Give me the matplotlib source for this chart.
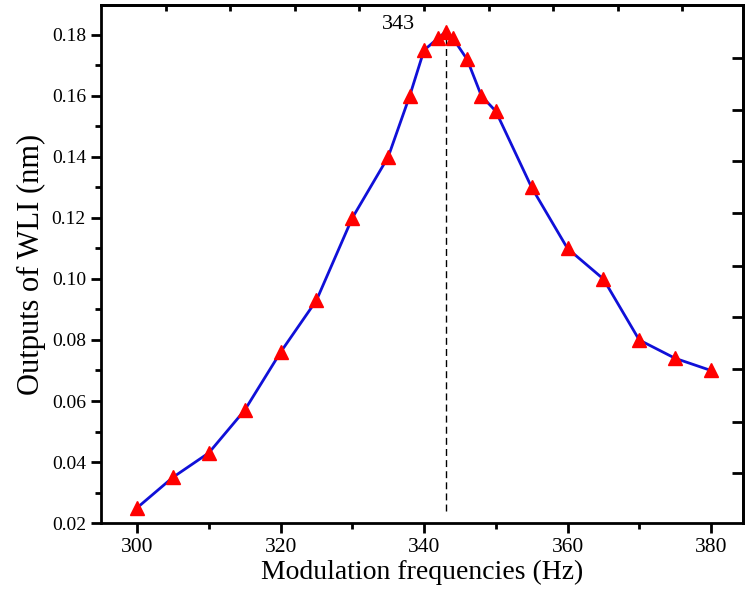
import matplotlib
matplotlib.use('Agg')

import matplotlib.pyplot as plt

# data
freqs = [300, 305, 310, 315, 320, 325, 330, 335, 338, 340, 342, 343,
         344, 346, 348, 350, 355, 360, 365, 370, 375, 380]
outputs = [0.025, 0.035, 0.043, 0.057, 0.076, 0.093, 0.120, 0.140, 0.160,
           0.175, 0.179, 0.181, 0.179, 0.172, 0.160, 0.155, 0.130, 0.110,
           0.100, 0.080, 0.074, 0.070]
peak_freq = 343
peak_label = '343'

x_ticks = [300, 320, 340, 360, 380]
y_ticks = [0.02, 0.04, 0.06, 0.08, 0.10, 0.12, 0.14, 0.16, 0.18]
top_ticks = [304, 313, 322, 331, 340, 349, 358, 367, 376]
right_ticks = [0.0364, 0.0531, 0.0705, 0.0875, 0.1043, 0.1216, 0.1387,
               0.1554, 0.1724]

plt.rcParams['font.family'] = ['Liberation Serif', 'DejaVu Serif']

fig = plt.figure(figsize=(7.5, 5.91), dpi=100)
ax = fig.add_axes([0.135, 0.115, 0.856, 0.8765])

ax.plot(freqs, outputs, '-', color='#1010d8', lw=2.0, zorder=2)
ax.plot(freqs, outputs, '^', color='#ff0000', ms=10, mec='#ff0000', zorder=3)
ax.plot([peak_freq, peak_freq], [0.024, max(outputs)], '--', color='black',
        lw=1.0, dashes=(5, 3), zorder=1)
ax.text(peak_freq - 6.6, 0.1833, peak_label, fontsize=16, ha='center',
        va='center')

ax.set_xlim(295, 384.5)
ax.set_ylim(0.02, 0.1898)
ax.set_xticks(x_ticks)
ax.set_xticks([310, 330, 350, 370], minor=True)
ax.set_yticks(y_ticks)
ax.set_yticks([0.03, 0.05, 0.07, 0.09, 0.11, 0.13, 0.15, 0.17], minor=True)
ax.set_yticklabels(['%.2f' % v for v in y_ticks])

ax.tick_params(which='major', direction='out', length=7, width=2,
               labelsize=14, pad=4)
ax.tick_params(axis='x', which='major', labelsize=15.5)
ax.tick_params(which='minor', direction='out', length=4, width=2)

for side in ax.spines.values():
    side.set_linewidth(2.0)

top = ax.secondary_xaxis('top')
top.set_xticks(top_ticks)
top.tick_params(direction='in', length=4, width=2, labeltop=False)
top.spines['top'].set_linewidth(2.0)

right = ax.secondary_yaxis('right')
right.set_yticks(right_ticks)
right.tick_params(direction='in', length=8, width=2, labelright=False)
right.spines['right'].set_linewidth(2.0)

ax.set_xlabel('Modulation frequencies (Hz)', fontsize=20, labelpad=2)
ax.set_ylabel('Outputs of WLI (nm)', fontsize=22, labelpad=4)

fig.savefig('out.png', dpi=100)
